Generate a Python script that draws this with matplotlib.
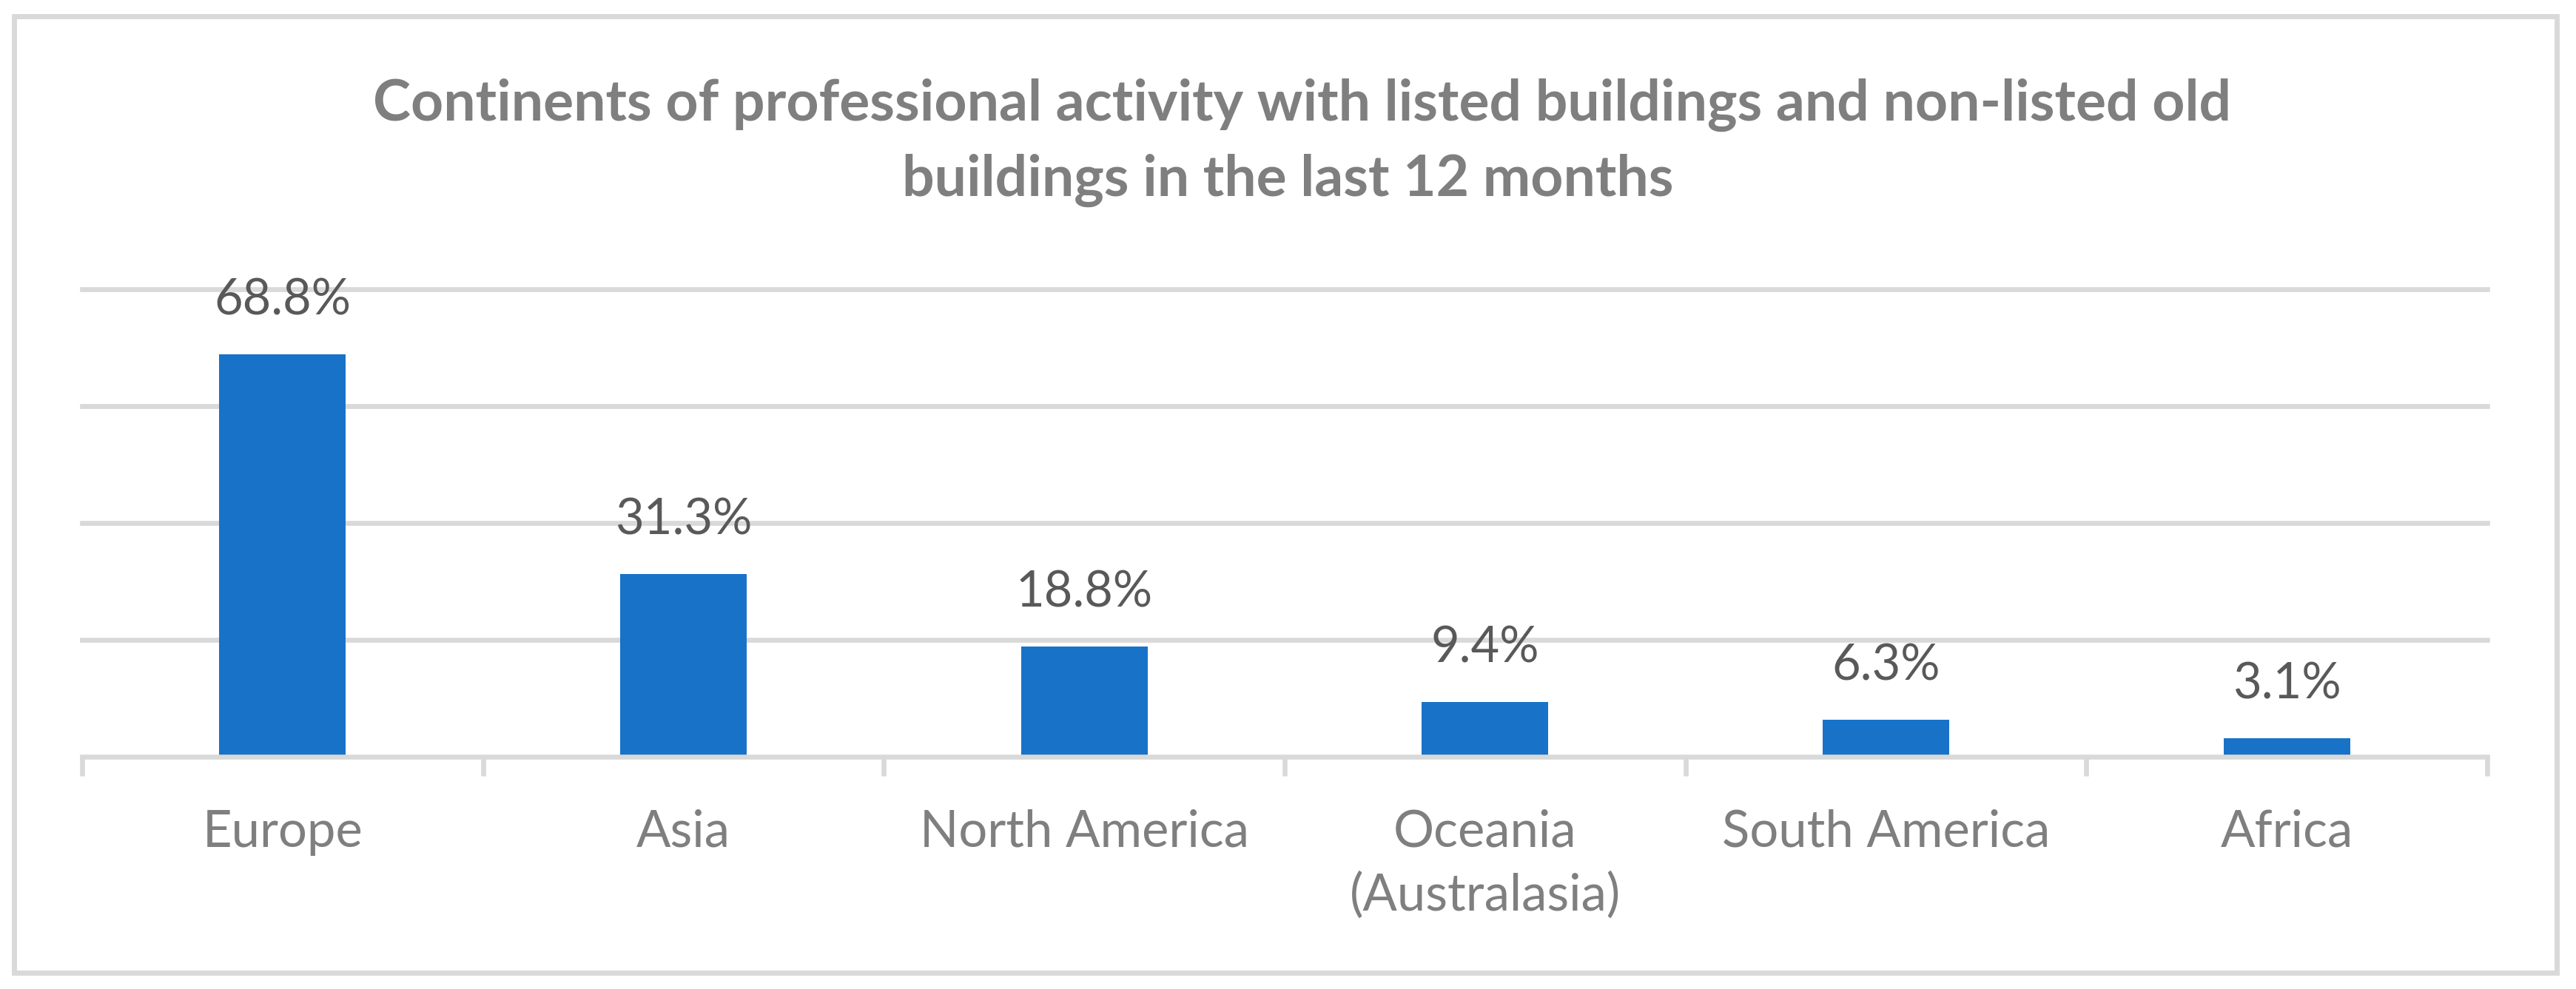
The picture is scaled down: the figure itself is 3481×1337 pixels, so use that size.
import matplotlib
matplotlib.use('Agg')
import matplotlib.pyplot as plt
from matplotlib.patches import Rectangle

# data
categories = ["Europe", "Asia", "North America", "Oceania\n(Australasia)", "South America", "Africa"]
shares = [68.8, 31.3, 18.8, 9.4, 6.3, 3.1]
grid_values = [0, 20, 40, 60, 80]
title_lines = ["Continents of professional activity with listed buildings and non-listed old",
               "buildings in the last 12 months"]

plt.rcParams['font.family'] = ['Lato', 'DejaVu Sans']

bar_color = '#1873C8'
grid_color = '#D9D9D9'

fig = plt.figure(figsize=(34.81, 13.37), dpi=100)
ax = fig.add_axes([0.0319, 0.2349, 0.9336, 0.4727])

x = list(range(len(categories)))
ax.bar(x, shares, width=0.316, color=bar_color, zorder=3)

ax.set_xlim(-0.5, len(categories) - 0.5)
ax.set_ylim(0, 80)

# horizontal gridlines (not clipped so the top one is full width)
for g in grid_values[1:]:
    ax.axhline(g, color=grid_color, linewidth=4.8, zorder=1, clip_on=False)

for s in ['top', 'right', 'left']:
    ax.spines[s].set_visible(False)
ax.spines['bottom'].set_color(grid_color)
ax.spines['bottom'].set_linewidth(4.8)
ax.spines['bottom'].set_zorder(4)

ax.set_yticks([])
ax.set_xticks(x)
ax.set_xticklabels(categories, fontsize=49.5, color='#7F7F7F', linespacing=1.4)
ax.tick_params(axis='x', which='major', length=0, pad=51)
ax.set_xticks([i - 0.5 for i in range(len(categories) + 1)], minor=True)
ax.tick_params(axis='x', which='minor', length=19, width=4.8, color=grid_color, direction='out')

# value labels above the bars
for xi, v in zip(x, shares):
    ax.annotate(f"{v:.1f}%", (xi, v), xytext=(0, 30), textcoords='offset points',
                ha='center', va='bottom', fontsize=48, color='#595959', zorder=5)

# title (first line sits a little right of centre in the original)
fig.text(0.5055, 1 - 163 / 1337, title_lines[0], ha='center', va='baseline',
         fontsize=55.4, fontweight='bold', color='#7F7F7F')
fig.text(0.5, 1 - 265 / 1337, title_lines[1], ha='center', va='baseline',
         fontsize=55.4, fontweight='bold', color='#7F7F7F')

# chart border
fig.patches.append(Rectangle((0.00546, 0.01645), 0.98704, 0.96705, transform=fig.transFigure,
                             fill=False, edgecolor=grid_color, linewidth=5))

fig.savefig('out.png', dpi=100, facecolor='white')
plt.close(fig)
